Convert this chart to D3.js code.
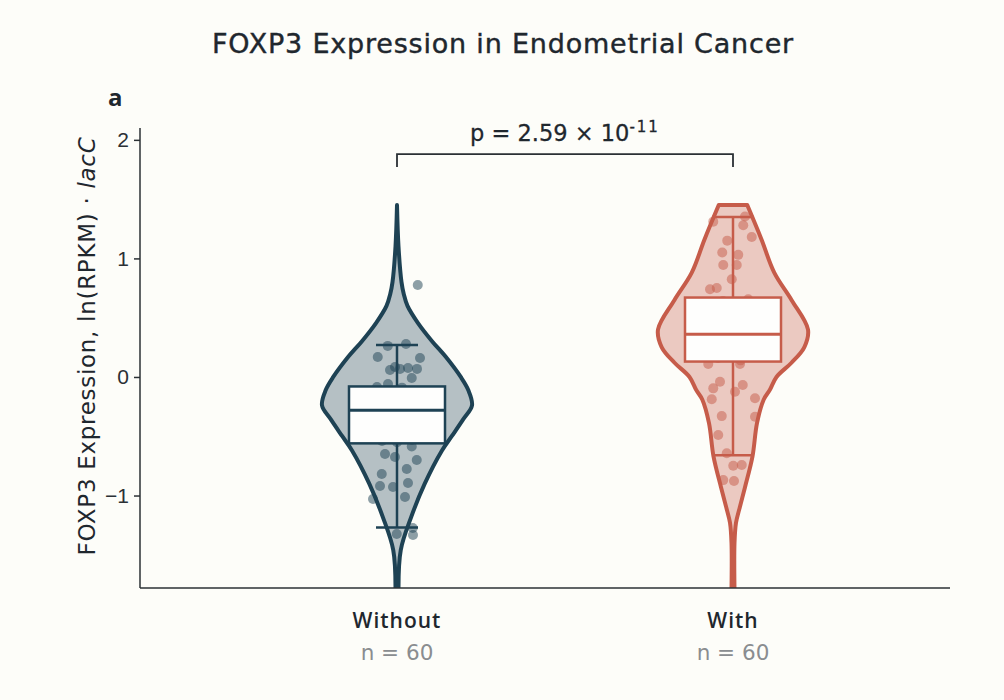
<!DOCTYPE html>
<html>
<head>
<meta charset="utf-8">
<script src="https://cdn.jsdelivr.net/npm/d3@7"></script>
<style>
  body { margin: 0; background: #fdfdf9; }
  svg { display: block; }
  text { font-family: "DejaVu Sans", "Open Sans", sans-serif; }
</style>
</head>
<body>
<div id="vis"></div>
<script>
var w = 1004;
var h = 700;

// groups + colours
var groups = ["Without", "With"];
var groupN = [60, 60];
var colors = ["#1e4254", "#c65c4a"];

// box stats: [lowWhisker, q1, median, q3, highWhisker]
var boxWithout = [-1.27, -0.56, -0.28, -0.08, 0.27];
var boxWith = [-0.66, 0.13, 0.36, 0.67, 1.35];

// violin outline: [value, relative density]
var violinWithout = [
  [1.45, 0], [1.1, 0.02], [0.8, 0.06], [0.7, 0.09], [0.6, 0.14], [0.455, 0.28],
  [0.3, 0.47], [0.17, 0.65], [0.0, 0.85], [-0.11, 0.95], [-0.24, 1.0], [-0.36, 0.88],
  [-0.5, 0.73], [-0.62, 0.6], [-0.9, 0.37], [-1.18, 0.19], [-1.46, 0.05], [-1.8, 0.02]
];
var violinWith = [
  [1.45, 0.19], [1.16, 0.38], [0.88, 0.55], [0.65, 0.78], [0.4, 1.0], [0.25, 0.95],
  [0.12, 0.78], [0.0, 0.58], [-0.11, 0.49], [-0.19, 0.41], [-0.39, 0.32], [-0.67, 0.26],
  [-0.93, 0.16], [-1.1, 0.09], [-1.23, 0.04], [-1.4, 0.02], [-1.8, 0.02]
];

// jittered points: values and jitter (fraction of jitter width)
var ptsWithout = [0.776, 0.262, 0.278, 0.169, 0.160, 0.084, 0.059, 0.068, 0.076, 0.068, -0.008, -0.059, -0.084,
  -0.587, -0.65, -0.675, -0.70, -0.776, -0.819, -0.92, -0.928, -0.895, -1.03, -1.013, -1.274, -1.325, -1.333,
  -0.09, -0.12, -0.14, -0.16, -0.18, -0.20, -0.21, -0.23, -0.25, -0.26, -0.27, -0.28, -0.29, -0.30, -0.31,
  -0.33, -0.34, -0.36, -0.38, -0.39, -0.41, -0.43, -0.44, -0.46, -0.48, -0.50, -0.51, -0.53, -0.54, -0.55,
  -0.30, -0.22, -0.40];
var jitWithout = [0.83, -0.37, 0.36, -0.77, 0.92, -0.08, -0.28, 0.12, 0.44, 0.8, 0.59, -0.36, -0.8,
  0.59, -0.48, -0.08, 0.79, 0.39, -0.61, -0.68, -0.16, 0.44, -0.96, 0.32, 0.63, -0.01, 0.64,
  0.2, -0.5, 0.7, -0.3, 0.1, 0.9, -0.8, 0.4, -0.1, 0.6, -0.6, 0.3, -0.9, 0.0, 0.8,
  -0.4, 0.5, -0.7, 0.2, -0.2, 0.7, -0.5, 0.9, -0.9, 0.1, 0.4, -0.3, 0.6, -0.6, 0.0,
  0.5, -0.4, 0.3];
var ptsWith = [1.353, 1.28, 1.18, 1.31, 1.15, 1.05, 1.03, 0.945, 0.945, 0.824, 0.74, 0.75, 0.656,
  0.11, 0.11, -0.04, -0.096, -0.068, -0.124, -0.18, -0.188, -0.33, -0.335, -0.49, -0.644, -0.749, -0.743,
  -0.87, -0.878,
  0.14, 0.16, 0.18, 0.20, 0.22, 0.24, 0.26, 0.28, 0.30, 0.31, 0.33, 0.34, 0.35, 0.36, 0.37, 0.38,
  0.40, 0.42, 0.44, 0.46, 0.48, 0.50, 0.52, 0.54, 0.56, 0.58, 0.60, 0.62, 0.64, 0.25, 0.45];
var jitWith = [0.48, 0.41, 0.75, -0.79, -0.23, -0.43, 0.21, -0.39, 0.15, -0.05, -0.92, -0.65, 0.61,
  -0.99, 0.28, -0.52, -0.79, 0.39, 0.08, 0.88, -0.85, -0.45, 0.88, -0.59, -0.25, 0.01, 0.35,
  -0.39, 0.04,
  0.3, -0.6, 0.8, -0.2, 0.5, -0.9, 0.1, 0.7, -0.4, 0.0, 0.9, -0.7, 0.4, -0.1, 0.6, -0.5,
  0.2, -0.8, 0.7, -0.3, 0.1, 0.9, -0.6, 0.5, -0.2, 0.3, -0.9, 0.8, -0.4, 0.6, -0.7];

var yTicks = [-1, 0, 1, 2];
var pLabel = "2.59 × 10";
var pExp = "-11";

var boxes = [boxWithout, boxWith];
var violins = [violinWithout, violinWith];
var points = [ptsWithout, ptsWith];
var jitters = [jitWithout, jitWith];

// layout
var mLeft = 140, mRight = 950, mTop = 128, mBottom = 588;

var svg = d3.select("#vis").append("svg")
  .attr("width", w)
  .attr("height", h);

svg.append("rect").attr("width", w).attr("height", h).attr("fill", "#fdfdf9");

var y = d3.scaleLinear().domain([-1.78, 2.1]).range([mBottom, mTop]);
var x = d3.scalePoint().domain(groups).range([397, 733]);
var vw = d3.scaleLinear().domain([0, 1]).range([0, 75]);
var jw = 25;
var boxHalf = 48;
var capHalf = 21;

svg.append("defs").append("clipPath").attr("id", "plotclip")
  .append("rect")
  .attr("x", mLeft).attr("y", mTop - 20)
  .attr("width", mRight - mLeft).attr("height", mBottom - mTop + 20);

var plot = svg.append("g").attr("clip-path", "url(#plotclip)");

groups.forEach(function(g, i) {
  var cx = x(g);
  var col = colors[i];
  var area = d3.area()
    .y(function(d) { return y(d[0]); })
    .x0(function(d) { return cx - vw(d[1]); })
    .x1(function(d) { return cx + vw(d[1]); })
    .curve(d3.curveCatmullRom);

  // violin fill
  plot.append("path")
    .datum(violins[i])
    .attr("d", area)
    .attr("fill", col)
    .attr("fill-opacity", 0.32)
    .attr("stroke", "none");

  // points
  plot.selectAll(".pt" + i)
    .data(points[i])
    .enter()
    .append("circle")
    .attr("class", "pt" + i)
    .attr("cx", function(d, j) { return cx + jitters[i][j] * jw; })
    .attr("cy", function(d) { return y(d); })
    .attr("r", 5)
    .attr("fill", col)
    .attr("fill-opacity", 0.5);

  // violin outline
  plot.append("path")
    .datum(violins[i])
    .attr("d", area)
    .attr("fill", "none")
    .attr("stroke", col)
    .attr("stroke-width", 4)
    .attr("stroke-linejoin", "round");

  var b = boxes[i];
  // whiskers
  plot.append("line")
    .attr("x1", cx).attr("x2", cx)
    .attr("y1", y(b[0])).attr("y2", y(b[4]))
    .attr("stroke", col).attr("stroke-width", 2.5);
  [b[0], b[4]].forEach(function(v) {
    plot.append("line")
      .attr("x1", cx - capHalf).attr("x2", cx + capHalf)
      .attr("y1", y(v)).attr("y2", y(v))
      .attr("stroke", col).attr("stroke-width", 2.5);
  });
  // box
  plot.append("rect")
    .attr("x", cx - boxHalf)
    .attr("y", y(b[3]))
    .attr("width", boxHalf * 2)
    .attr("height", y(b[1]) - y(b[3]))
    .attr("fill", "#fefefd")
    .attr("stroke", col)
    .attr("stroke-width", 2.5);
  plot.append("line")
    .attr("x1", cx - boxHalf).attr("x2", cx + boxHalf)
    .attr("y1", y(b[2])).attr("y2", y(b[2]))
    .attr("stroke", col).attr("stroke-width", 3);
});

// axes
var yAxis = d3.axisLeft(y).tickValues(yTicks).tickFormat(d3.format("d")).tickSize(6).tickPadding(5);
var gy = svg.append("g")
  .attr("transform", "translate(" + mLeft + ",0)")
  .call(yAxis);
gy.select(".domain").remove();
gy.selectAll(".tick line").attr("stroke", "#2b3035").attr("stroke-width", 1.5);
gy.selectAll(".tick text")
  .attr("fill", "#2b3035")
  .style("font-size", "21px")
  .style("font-family", "'Liberation Sans', sans-serif");

svg.append("line")
  .attr("x1", mLeft).attr("x2", mLeft)
  .attr("y1", mTop).attr("y2", mBottom)
  .attr("stroke", "#2b3035").attr("stroke-width", 1.5);
svg.append("line")
  .attr("x1", mLeft).attr("x2", mRight)
  .attr("y1", mBottom).attr("y2", mBottom)
  .attr("stroke", "#2b3035").attr("stroke-width", 1.5);

// x labels
groups.forEach(function(g, i) {
  svg.append("text")
    .text(g)
    .attr("x", x(g)).attr("y", 628)
    .attr("text-anchor", "middle")
    .attr("fill", "#1f272e")
    .style("font-family", "'Open Sans', sans-serif")
    .style("font-size", "21px")
    .style("font-weight", "600")
    .style("letter-spacing", "1px");
  svg.append("text")
    .text("n = " + groupN[i])
    .attr("x", x(g)).attr("y", 660)
    .attr("text-anchor", "middle")
    .attr("fill", "#8a8d90")
    .style("font-size", "21.5px");
});

// y label
svg.append("text")
  .attr("transform", "translate(95," + ((mTop + mBottom) / 2 - 12) + ") rotate(-90)")
  .attr("text-anchor", "middle")
  .attr("fill", "#1f272e")
  .style("font-size", "23px")
  .style("letter-spacing", "0.7px")
  .html("FOXP3 Expression, ln(RPKM) · <tspan font-style='italic'>lacC</tspan>");

// title + panel letter
svg.append("text")
  .text("FOXP3 Expression in Endometrial Cancer")
  .attr("x", 503).attr("y", 53)
  .attr("text-anchor", "middle")
  .attr("fill", "#1f272e")
  .attr("stroke", "#1f272e")
  .attr("stroke-width", 0.4)
  .style("font-size", "27px")
  .style("letter-spacing", "0.8px");

svg.append("text")
  .text("a")
  .attr("x", 108).attr("y", 106)
  .attr("fill", "#1f272e")
  .style("font-family", "'Open Sans', sans-serif")
  .style("font-size", "24px")
  .style("font-weight", "700");

// significance bracket
var bx1 = x(groups[0]), bx2 = x(groups[1]);
var by = y(1.88), byTick = y(1.77);
svg.append("path")
  .attr("d", "M" + bx1 + "," + byTick + "V" + by + "H" + bx2 + "V" + byTick)
  .attr("fill", "none")
  .attr("stroke", "#2b3035")
  .attr("stroke-width", 1.8);

var pt = svg.append("text")
  .attr("x", (bx1 + bx2) / 2).attr("y", 141)
  .attr("text-anchor", "middle")
  .attr("fill", "#1f272e")
  .attr("stroke", "#1f272e")
  .attr("stroke-width", 0.3)
  .style("font-size", "22.5px");
pt.append("tspan").text("p = " + pLabel);
pt.append("tspan").text(pExp).attr("dy", -9).style("font-size", "15px").style("letter-spacing", "2px");
</script>
</body>
</html>
